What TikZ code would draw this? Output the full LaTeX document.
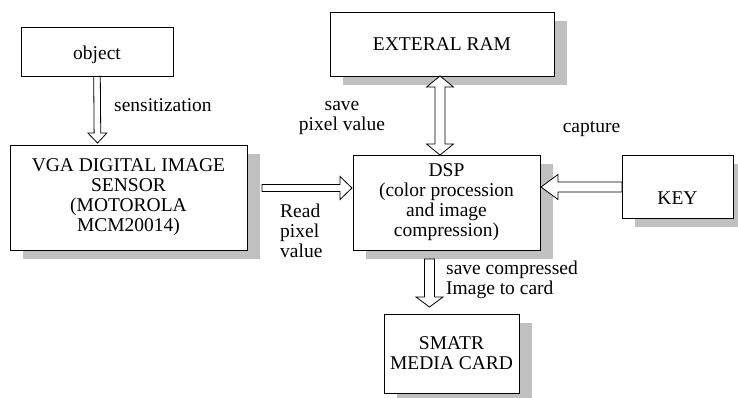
\documentclass[tikz,border=0pt]{standalone}
\usepackage{fontspec}
\setmainfont{Liberation Serif}
\usepackage{xcolor}
\usepackage{tikz}
\usetikzlibrary{calc,shadows}
\definecolor{shadowgray}{RGB}{192,192,192}

\begin{document}
\begin{tikzpicture}[x=1pt,y=-1pt,
  every node/.style={font=\fontsize{19.5}{20}\selectfont},
  box/.style={draw,fill=white,line width=0.8pt,inner sep=0pt,align=center},
  shadowed/.style={box,general shadow={fill=shadowgray,shadow xshift=13pt,shadow yshift=-9pt}},
  note/.style={inner sep=0pt},
  shaftw/.store in=\shafth, headw/.store in=\headh, headlen/.store in=\headl,
  shaftw=4pt, headw=12pt, headlen=12pt,
  hollow/.style={draw,fill=white,line width=0.8pt,to path={
    ($(\tikztostart)!\shafth!90:(\tikztotarget)$)
    -- ($(\tikztotarget)!\headl!(\tikztostart)!\shafth!90:(\tikztotarget)$)
    -- ($(\tikztotarget)!\headl!(\tikztostart)!\headh!90:(\tikztotarget)$)
    -- (\tikztotarget)
    -- ($(\tikztotarget)!\headl!(\tikztostart)!\headh!-90:(\tikztotarget)$)
    -- ($(\tikztotarget)!\headl!(\tikztostart)!\shafth!-90:(\tikztotarget)$)
    -- ($(\tikztostart)!\shafth!-90:(\tikztotarget)$) -- cycle}},
  hollow both/.style={draw,fill=white,line width=0.8pt,to path={
    (\tikztostart)
    -- ($(\tikztostart)!\headl!(\tikztotarget)!\headh!90:(\tikztotarget)$)
    -- ($(\tikztostart)!\headl!(\tikztotarget)!\shafth!90:(\tikztotarget)$)
    -- ($(\tikztotarget)!\headl!(\tikztostart)!\shafth!90:(\tikztotarget)$)
    -- ($(\tikztotarget)!\headl!(\tikztostart)!\headh!90:(\tikztotarget)$)
    -- (\tikztotarget)
    -- ($(\tikztotarget)!\headl!(\tikztostart)!\headh!-90:(\tikztotarget)$)
    -- ($(\tikztotarget)!\headl!(\tikztostart)!\shafth!-90:(\tikztotarget)$)
    -- ($(\tikztostart)!\headl!(\tikztotarget)!\shafth!-90:(\tikztotarget)$)
    -- ($(\tikztostart)!\headl!(\tikztotarget)!\headh!-90:(\tikztotarget)$) -- cycle}}]
  \useasboundingbox (0,0) rectangle (738,397);

  % blocks
  \node[box,minimum width=152pt,minimum height=49pt,text height=15pt,text depth=0pt] (obj) at (97,51.5) {object};
  \node[shadowed,minimum width=237pt,minimum height=105pt] (sensor) at (128.5,197.5)
        {VGA DIGITAL IMAGE\\SENSOR\\(MOTOROLA\\MCM20014)};
  \node[shadowed,minimum width=224pt,minimum height=64pt] (ram) at (442,44) {EXTERAL RAM};
  \node[shadowed,minimum width=187pt,minimum height=95pt] (dsp) at (446.5,202.5)
        {DSP\\(color procession\\and image\\compression)};
  \node[shadowed,minimum width=111pt,minimum height=63pt,text height=36pt,text depth=0pt] (key) at (677.5,186.5) {KEY};
  \node[shadowed,minimum width=135pt,minimum height=79pt] (card) at (451.5,353.5) {SMATR\\MEDIA CARD};

  % connector ends
  \coordinate (objtip) at (97.5,143);
  \coordinate (senout) at (262,188);
  \coordinate (sentip) at (352,188);
  \coordinate (ramout) at (440,76);
  \coordinate (ramin) at (440,155);
  \coordinate (keyout) at (622,187);
  \coordinate (keytip) at (541,187);
  \coordinate (dspout) at (429.5,259);
  \coordinate (cardtip) at (429.5,307);

  \draw[hollow,shaftw=3.3pt,headw=9.5pt,headlen=10pt] (obj.south) to (objtip);
  \draw[hollow,shaftw=3.5pt,headw=11.5pt,headlen=12pt] (senout) to (sentip);
  \draw[hollow both,shaftw=5pt,headw=13.5pt,headlen=11pt] (ramout) to (ramin);
  \draw[hollow,shaftw=5pt,headw=12.5pt,headlen=17pt] (keyout) to (keytip);
  \draw[hollow,shaftw=5pt,headw=13.5pt,headlen=10pt] (dspout) to (cardtip);

  % labels
  \node[note,anchor=west] (sens) at (114,105) {sensitization};
  \node[note,align=center] (savepix) at (342,117.5) {save\\pixel value};
  \node[note] (capt) at (591.5,129) {capture};
  \node[note,anchor=west,align=left] (readpix) at (280,230.4) {Read\\pixel\\value};
  \node[note,anchor=west,align=left] (savecard) at (446,279.5) {save compressed\\Image to card};
\end{tikzpicture}
\end{document}
